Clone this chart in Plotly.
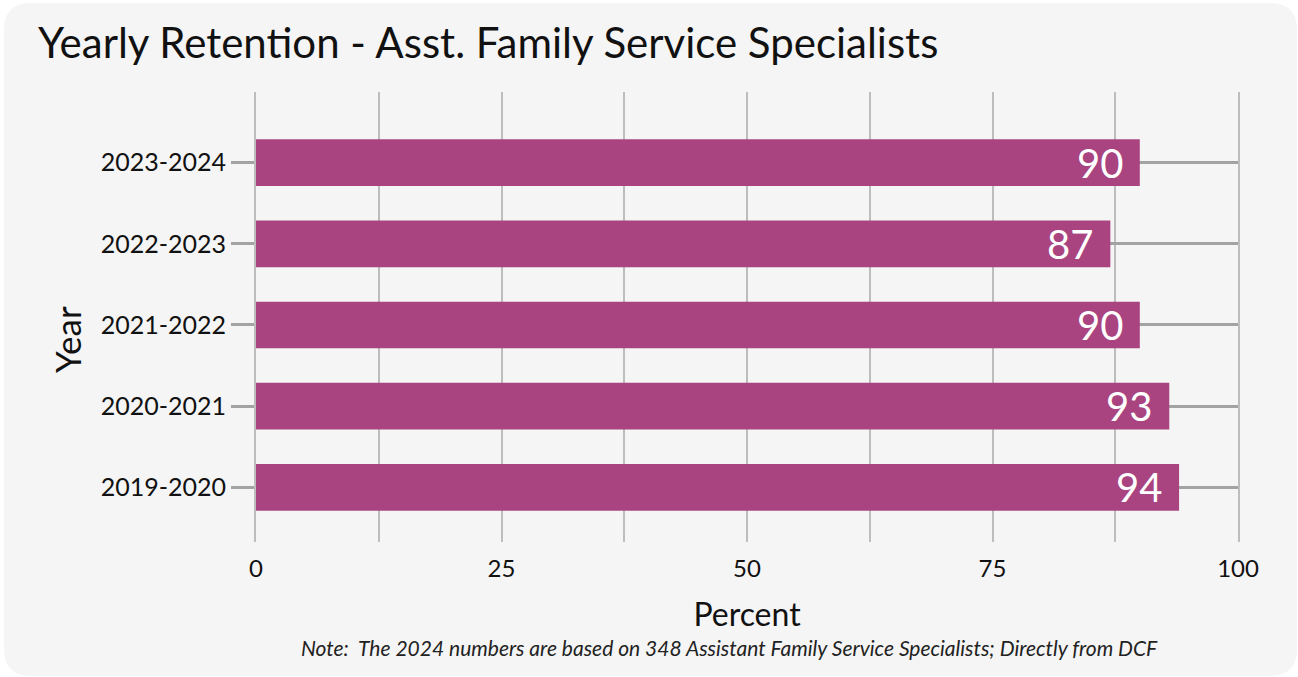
import plotly.graph_objects as go

# Data
years = ["2019-2020", "2020-2021", "2021-2022", "2022-2023", "2023-2024"]
retention = [94, 93, 90, 87, 90]

title_text = "Yearly Retention - Asst. Family Service Specialists"
note_text = "Note:  The 2024 numbers are based on 348 Assistant Family Service Specialists; Directly from DCF"

BAR_COLOR = "#a94480"
GRID_V = "#bdbdbd"
GRID_H = "#a3a3a3"
INK = "#111111"
FONT = "Lato"

W, H = 1298, 677
ML, MR, MT, MB = 256, 60, 92, 135
PW, PH = W - ML - MR, H - MT - MB


def px_to_paper(x, y):
    return (x - ML) / PW, (H - MB - y) / PH


def rounded_panel(x0, y0, x1, y1, r):
    def p(x, y):
        a, b = px_to_paper(x, y)
        return f"{a:.5f},{b:.5f}"
    return (
        f"M {p(x0 + r, y0)} L {p(x1 - r, y0)} Q {p(x1, y0)} {p(x1, y0 + r)} "
        f"L {p(x1, y1 - r)} Q {p(x1, y1)} {p(x1 - r, y1)} "
        f"L {p(x0 + r, y1)} Q {p(x0, y1)} {p(x0, y1 - r)} "
        f"L {p(x0, y0 + r)} Q {p(x0, y0)} {p(x0 + r, y0)} Z"
    )


fig = go.Figure()
fig.add_trace(go.Bar(
    x=retention,
    y=years,
    orientation="h",
    marker=dict(color=BAR_COLOR, line=dict(width=0)),
    width=0.575,
    hoverinfo="x+y",
))

# value labels at the end of each bar
for yr, v in zip(years, retention):
    fig.add_annotation(
        x=v, y=yr, text=str(v), showarrow=False,
        xanchor="right", yanchor="middle", xshift=-15,
        font=dict(family=FONT, size=40, color="white"),
    )

# y-axis title, placed by hand
yx, yy = px_to_paper(67, 340)
fig.add_annotation(
    x=yx, y=yy, xref="paper", yref="paper", text="Year", textangle=-90,
    showarrow=False, xanchor="center", yanchor="middle",
    font=dict(family=FONT, size=35, color=INK),
)

# footnote
nx, ny = px_to_paper(729, 647)
fig.add_annotation(
    x=nx, y=ny, xref="paper", yref="paper", text=f"<i>{note_text}</i>",
    showarrow=False, xanchor="center", yanchor="middle",
    font=dict(family=FONT, size=21, color="#222222"),
)

fig.add_shape(
    type="path", xref="paper", yref="paper", layer="below",
    path=rounded_panel(4, 3, 1297, 676, 27),
    fillcolor="#f5f5f5", line=dict(width=0),
)

fig.update_layout(
    width=W, height=H,
    margin=dict(l=ML, r=MR, t=MT, b=MB, pad=0),
    paper_bgcolor="white",
    plot_bgcolor="rgba(0,0,0,0)",
    showlegend=False,
    font=dict(family=FONT, color=INK),
    title=dict(
        text=title_text, x=38 / W, xanchor="left", y=1 - 43 / H, yanchor="middle",
        font=dict(family=FONT, size=42, color=INK),
    ),
    xaxis=dict(
        range=[0, 100], dtick=25, tick0=0,
        showgrid=True, gridcolor=GRID_V, gridwidth=2,
        minor=dict(dtick=12.5, showgrid=True, gridcolor=GRID_V, gridwidth=2),
        zeroline=False, showline=False, ticks="",
        ticklabelstandoff=10,
        tickfont=dict(family=FONT, size=24, color=INK),
        title=dict(text="Percent", font=dict(family=FONT, size=32, color=INK), standoff=22),
        fixedrange=True,
    ),
    yaxis=dict(
        range=[-0.674, 4.871],
        categoryorder="array", categoryarray=years,
        showgrid=True, gridcolor=GRID_H, gridwidth=2.5,
        zeroline=False,
        showline=True, mirror=True, linecolor=GRID_V, linewidth=2,
        ticks="outside", ticklen=23, tickwidth=2.5, tickcolor=GRID_H,
        tickfont=dict(family=FONT, size=25, color=INK),
        fixedrange=True,
    ),
)

fig.write_html("out.html")
